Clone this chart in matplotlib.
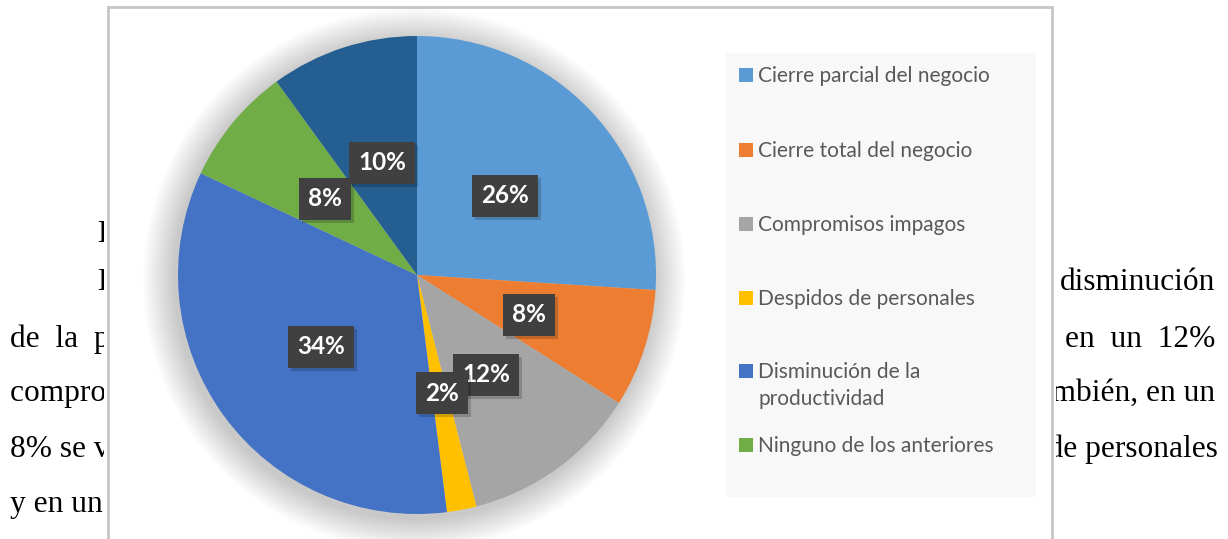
import matplotlib
matplotlib.use('Agg')
import matplotlib.pyplot as plt
from matplotlib.patches import Rectangle, Circle
import matplotlib.transforms as mtransforms

# ---------------- data ----------------
categories = ["Cierre parcial del negocio", "Cierre total del negocio",
              "Compromisos impagos", "Despidos de personales",
              "Disminución de la\nproductividad", "Ninguno de los anteriores",
              "Otros"]
values = [26, 8, 12, 2, 34, 8, 10]
pct_labels = ["26%", "8%", "12%", "2%", "34%", "8%", "10%"]
colors = ["#5B9BD5", "#ED7D31", "#A5A5A5", "#FFC000", "#4472C4", "#70AD47", "#255E91"]
legend_count = 6

# document text visible around the chart (left / right fragments)
doc_left = ["Los", "En", "de  la  productividad", "compromisos impagos", "8% se vieron afectados", "y en un 2%"]
doc_right = ["disminución", "en  un  12%", "también, en un", "despidos de personales"]

# ---------------- layout ----------------
W, H = 1228, 539
fig = plt.figure(figsize=(W / 100, H / 100), dpi=100)
fig.patch.set_facecolor('white')

bg = fig.add_axes([0, 0, 1, 1])
bg.set_xlim(0, W)
bg.set_ylim(H, 0)
bg.axis('off')

serif = dict(family='Liberation Serif', fontsize=22.6, color='black', zorder=1)
left_base = [242, 290, 347, 401, 457, 512]
left_x = [97, 97, 10, 10, 10, 10]
for t, x, y in zip(doc_left, left_x, left_base):
    bg.text(x, y, t, ha='left', va='baseline', **serif)
right_base = [290, 347, 401, 457]
right_x = [1215, 1215, 1215, 1218]
for t, x, y in zip(doc_right, right_x, right_base):
    bg.text(x, y, t, ha='right', va='baseline', **serif)

# chart area (white) and frame
bg.add_patch(Rectangle((104, 3), 1056 - 104, 600, facecolor='white',
                       edgecolor='none', zorder=2))
bg.add_patch(Rectangle((108, 7), 1052 - 108, 600, facecolor='white',
                       edgecolor='#C6C6C6', linewidth=2, zorder=2))

# legend box
bg.add_patch(Rectangle((726, 53), 1036 - 726, 497 - 53, facecolor='#F8F8F8',
                       edgecolor='none', zorder=3))
legend_y = [75, 150, 224, 298, 371, 445]
for i in range(legend_count):
    y = legend_y[i]
    bg.add_patch(Rectangle((739, y - 7), 14, 14, facecolor=colors[i],
                           edgecolor='none', zorder=4))
    bg.text(758, y - 9, categories[i], ha='left', va='top', fontsize=15,
            family='Lato', color='#595959', zorder=4, linespacing=1.45)

# ---------------- pie ----------------
cx, cy, R = 417, 275, 239
ax = fig.add_axes([(cx - R) / W, (H - cy - R) / H, 2 * R / W, 2 * R / H])
ax.patch.set_alpha(0)

# soft shadow around the pie
for k in range(18):
    ax.add_patch(Circle((-0.012, -0.018), 1 + 0.0075 * (k + 1), facecolor='black',
                        edgecolor='none', alpha=0.011, zorder=0, clip_on=False))

wedges, _ = ax.pie(values, colors=colors, startangle=90, counterclock=False,
                   radius=1, wedgeprops=dict(linewidth=0))
for w in wedges:
    w.set_zorder(2)
ax.set_xlim(-1, 1)
ax.set_ylim(-1, 1)
ax.set_aspect('equal')
ax.axis('off')

label_pos = [(0.368, 0.331), (0.469, -0.167), (0.289, -0.418), (0.105, -0.494),
             (-0.402, -0.301), (-0.385, 0.318), (-0.146, 0.469)]
shadow_tr = mtransforms.offset_copy(ax.transData, fig=fig, x=3, y=-3, units='dots')
for i, (lab, (x, y)) in enumerate(zip(pct_labels, label_pos)):
    ax.text(x, y, lab, ha='center', va='center', fontsize=17.5, fontweight='bold',
            family='Lato', color=(0, 0, 0, 0), transform=shadow_tr, zorder=5 + 2 * i,
            bbox=dict(boxstyle='square,pad=0.38', facecolor='black', alpha=0.18,
                      edgecolor='none'))
    ax.text(x, y, lab, ha='center', va='center', fontsize=17.5, fontweight='bold',
            family='Lato', color='white', zorder=6 + 2 * i,
            bbox=dict(boxstyle='square,pad=0.38', facecolor='#404040',
                      edgecolor='none'))

fig.savefig('out.png', dpi=100)
